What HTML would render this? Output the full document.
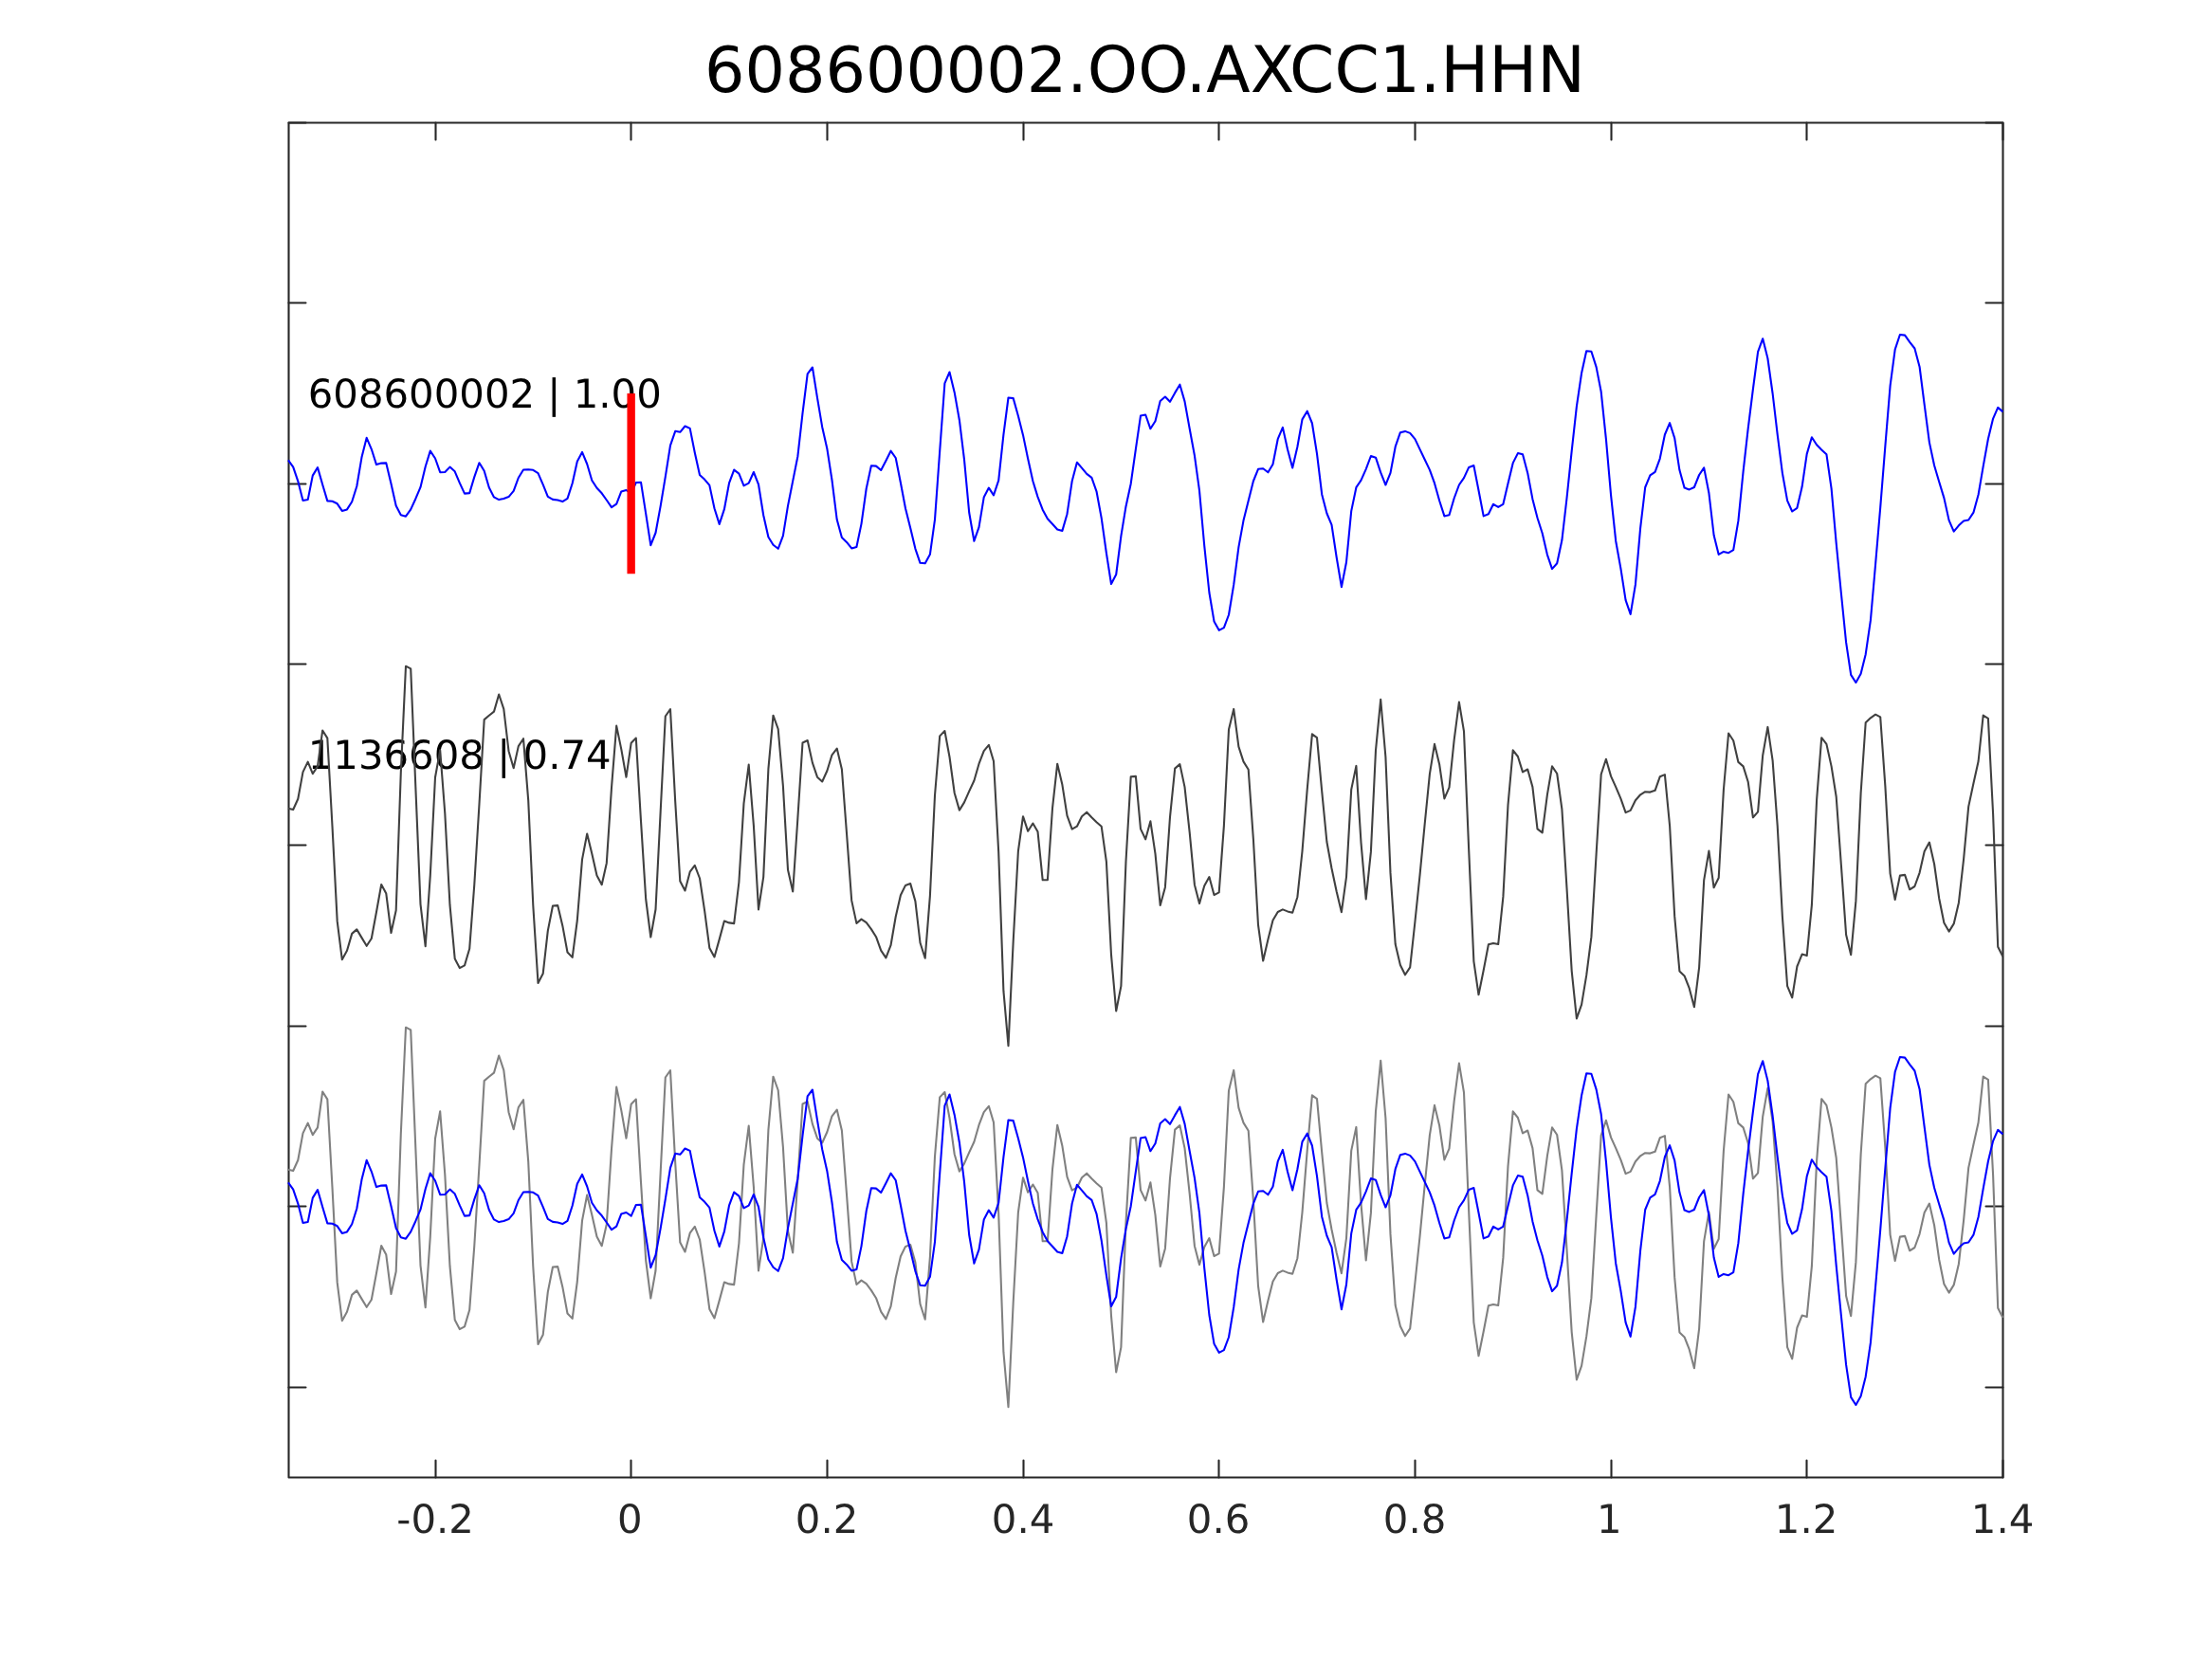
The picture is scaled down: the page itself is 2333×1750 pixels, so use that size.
<!DOCTYPE html>
<html lang="en"><head><meta charset="utf-8"><title>608600002.OO.AXCC1.HHN</title>
<style>
html,body{margin:0;padding:0;background:#fff}
body{width:2333px;height:1750px;overflow:hidden}
svg{display:block;text-rendering:geometricPrecision;will-change:transform}
</style>
</head><body>
<svg width="2333" height="1750" viewBox="0 0 2333 1750">
<rect x="0" y="0" width="2333" height="1750" fill="#fff"/>
<g stroke="#262626" stroke-width="2.08" fill="none" stroke-linecap="round" stroke-linejoin="round">
<rect x="304.5" y="129.5" width="1808.00" height="1429.00"/>
<path d="M459.50 1558.5V1540.50M459.50 129.5V147.50M665.50 1558.5V1540.50M665.50 129.5V147.50M872.50 1558.5V1540.50M872.50 129.5V147.50M1079.50 1558.5V1540.50M1079.50 129.5V147.50M1285.50 1558.5V1540.50M1285.50 129.5V147.50M1492.50 1558.5V1540.50M1492.50 129.5V147.50M1699.50 1558.5V1540.50M1699.50 129.5V147.50M1905.50 1558.5V1540.50M1905.50 129.5V147.50M2112.50 1558.5V1540.50M2112.50 129.5V147.50M304.5 319.50H322.50M2112.5 319.50H2094.50M304.5 510.50H322.50M2112.5 510.50H2094.50M304.5 700.50H322.50M2112.5 700.50H2094.50M304.5 891.50H322.50M2112.5 891.50H2094.50M304.5 1082.50H322.50M2112.5 1082.50H2094.50M304.5 1272.50H322.50M2112.5 1272.50H2094.50M304.5 1463.50H322.50M2112.5 1463.50H2094.50M304.5 129.5H322.50M2112.5 129.5H2094.50"/>
</g>
<g class="t" font-family="'DejaVu Sans','Liberation Sans',sans-serif" font-size="41.8" fill="#262626" text-anchor="middle">
<text x="459.1" y="1617">-0.2</text>
<text x="664.3" y="1617">0</text>
<text x="872.1" y="1617">0.2</text>
<text x="1079.1" y="1617">0.4</text>
<text x="1285.1" y="1617">0.6</text>
<text x="1492.1" y="1617">0.8</text>
<text x="1697.2" y="1617">1</text>
<text x="1905.1" y="1617">1.2</text>
<text x="2112.1" y="1617">1.4</text>
</g>
<text class="t" y="96.6" font-family="'DejaVu Sans','Liberation Sans',sans-serif" fill="#000"><tspan x="743.0" font-size="66.78">608600002</tspan><tspan dx="0" font-size="67.75">.OO.AXCC1.HHN</tspan></text>
<g class="t" font-family="'DejaVu Sans','Liberation Sans',sans-serif" font-size="41.8" fill="#000">
<text x="324.75" y="430">608600002 | 1.00</text>
<text x="324.75" y="811">1136608 | 0.74</text>
</g>
<g fill="none" stroke-width="2.08" stroke-linejoin="round" stroke-linecap="butt">
<polyline stroke="#0000ff" points="304.0,485.4 309.2,492.6 314.3,507.6 319.5,528.0 324.7,527.1 329.8,501.6 335.0,493.1 340.2,511.2 345.3,528.4 350.5,528.8 355.7,531.3 360.8,538.9 366.0,537.4 371.2,529.3 376.3,513.0 381.5,482.3 386.7,461.8 391.8,473.8 397.0,490.1 402.2,488.6 407.3,488.4 412.5,510.3 417.7,533.5 422.8,543.2 428.0,544.7 433.2,537.4 438.3,526.2 443.5,513.9 448.7,492.2 453.8,475.6 459.0,483.5 464.2,498.2 469.3,498.0 474.5,492.6 479.7,497.3 484.8,509.4 490.0,520.6 495.2,520.1 500.3,503.1 505.5,488.2 510.7,496.7 515.8,514.3 521.0,524.4 526.2,527.1 531.3,526.0 536.5,524.1 541.7,517.9 546.8,504.0 552.0,495.5 557.2,495.3 562.3,495.8 567.5,499.1 572.7,511.2 577.8,523.9 583.0,526.9 588.2,527.5 593.3,529.1 598.5,525.9 603.7,509.8 608.8,486.8 614.0,476.9 619.2,489.5 624.3,506.7 629.5,514.8 634.7,520.3 639.8,527.5 645.0,535.1 650.2,531.6 655.3,518.4 660.5,517.0 665.7,520.6 670.8,509.0 676.0,508.7 681.2,541.8 686.3,575.1 691.5,562.0 696.7,533.6 701.8,502.9 707.0,469.8 712.2,454.8 717.3,455.8 722.5,449.5 727.7,451.9 732.8,477.5 738.0,501.0 743.2,505.8 748.3,511.9 753.5,536.3 758.7,552.9 763.9,537.2 769.0,509.7 774.2,495.6 779.4,499.6 784.5,512.4 789.7,509.7 794.9,498.0 800.0,511.0 805.2,543.5 810.4,566.5 815.5,574.8 820.7,578.8 825.9,565.2 831.0,533.6 836.2,507.4 841.4,481.2 846.5,435.9 851.7,394.4 856.9,387.5 862.0,419.7 867.2,450.4 872.4,473.6 877.5,506.5 882.7,548.1 887.9,567.1 893.0,571.9 898.2,578.4 903.4,577.0 908.5,552.6 913.7,515.5 918.9,491.3 924.0,491.6 929.2,496.0 934.4,486.0 939.5,475.7 944.7,483.0 949.9,509.2 955.0,536.3 960.2,557.1 965.4,578.8 970.5,593.8 975.7,594.2 980.9,584.8 986.0,548.1 991.2,475.7 996.4,404.3 1001.5,392.5 1006.7,413.9 1011.9,443.2 1017.0,484.8 1022.2,540.8 1027.4,570.7 1032.5,556.2 1037.7,524.6 1042.9,514.6 1048.0,522.4 1053.2,506.8 1058.4,458.6 1063.5,419.5 1068.7,420.1 1073.9,438.7 1079.0,458.9 1084.2,484.0 1089.4,507.5 1094.5,524.1 1099.7,537.7 1104.9,547.3 1110.0,552.7 1115.2,558.5 1120.4,559.9 1125.5,542.2 1130.7,507.5 1135.9,487.8 1141.0,493.6 1146.2,499.9 1151.4,503.9 1156.5,518.3 1161.7,546.4 1166.9,583.4 1172.0,616.0 1177.2,606.0 1182.4,565.4 1187.5,534.2 1192.7,510.2 1197.9,473.7 1203.0,438.6 1208.2,437.5 1213.4,452.3 1218.5,444.2 1223.7,423.0 1228.9,418.5 1234.0,423.8 1239.2,414.4 1244.4,405.7 1249.5,423.4 1254.7,452.3 1259.9,480.4 1265.0,517.4 1270.2,575.3 1275.4,625.0 1280.5,655.4 1285.7,664.8 1290.9,662.1 1296.0,648.5 1301.2,616.9 1306.4,577.1 1311.5,549.1 1316.7,528.3 1321.9,507.5 1327.0,494.8 1332.2,494.3 1337.4,498.3 1342.5,489.8 1347.7,463.2 1352.9,450.9 1358.0,474.0 1363.2,493.6 1368.4,471.3 1373.5,442.4 1378.7,433.7 1383.9,446.5 1389.0,478.6 1394.2,521.4 1399.4,541.5 1404.5,553.6 1409.7,588.0 1414.9,619.2 1420.0,593.0 1425.2,539.1 1430.4,514.2 1435.5,506.6 1440.7,494.8 1445.9,481.0 1451.0,482.7 1456.2,498.4 1461.4,511.5 1466.5,498.9 1471.7,471.2 1476.9,456.2 1482.0,454.9 1487.2,456.9 1492.4,463.1 1497.5,473.9 1502.7,484.8 1507.9,495.6 1513.0,509.7 1518.2,528.2 1523.4,544.4 1528.5,543.2 1533.7,525.5 1538.9,511.5 1544.0,504.1 1549.2,492.9 1554.4,491.1 1559.5,517.3 1564.7,544.4 1569.9,542.3 1575.0,531.8 1580.2,534.9 1585.4,531.8 1590.5,510.1 1595.7,488.4 1600.9,478.1 1606.0,479.3 1611.2,498.9 1616.4,526.4 1621.5,546.3 1626.7,562.5 1631.9,585.1 1637.0,600.1 1642.2,594.2 1647.4,569.8 1652.5,525.5 1657.7,475.7 1662.9,428.7 1668.1,393.5 1673.2,370.3 1678.4,370.8 1683.6,387.1 1688.7,413.3 1693.9,463.1 1699.1,522.7 1704.2,570.7 1709.4,599.6 1714.6,633.1 1719.7,647.9 1724.9,616.7 1730.1,557.1 1735.2,514.0 1740.4,501.4 1745.6,497.9 1750.7,483.8 1755.9,458.5 1761.1,446.2 1766.2,462.1 1771.4,495.8 1776.6,514.6 1781.7,516.4 1786.9,514.0 1792.1,501.0 1797.2,493.4 1802.4,520.0 1807.6,564.5 1812.7,584.9 1817.9,581.9 1823.1,583.2 1828.2,580.1 1833.4,549.4 1838.6,497.3 1843.7,452.1 1848.9,410.5 1854.1,371.1 1859.2,357.2 1864.4,378.0 1869.6,415.0 1874.7,458.4 1879.9,499.1 1885.1,528.1 1890.2,539.5 1895.4,535.8 1900.6,513.6 1905.7,478.9 1910.9,461.2 1916.1,469.3 1921.2,474.4 1926.4,479.2 1931.6,515.4 1936.7,573.0 1941.9,626.0 1947.1,677.7 1952.2,711.9 1957.4,720.0 1962.6,710.8 1967.7,690.2 1972.9,654.4 1978.1,595.0 1983.2,535.3 1988.4,470.2 1993.6,406.9 1998.7,368.6 2003.9,353.0 2009.1,353.6 2014.2,360.8 2019.4,367.5 2024.6,387.0 2029.7,426.8 2034.9,466.6 2040.1,491.0 2045.2,508.2 2050.4,525.4 2055.6,548.9 2060.7,560.6 2065.9,554.3 2071.1,549.4 2076.2,548.5 2081.4,540.7 2086.6,521.7 2091.7,491.9 2096.9,463.0 2102.1,441.6 2107.2,429.9 2112.4,434.4"/>
<line x1="665.65" y1="415" x2="665.65" y2="605.2" stroke="#ff0000" stroke-width="8.4"/>
<polyline stroke="#404040" points="304.0,852.7 309.2,854.0 314.3,842.8 319.5,814.4 324.7,803.6 329.8,816.2 335.0,808.4 340.2,770.5 345.3,778.6 350.5,871.6 355.7,971.9 360.8,1012.2 366.0,1002.7 371.2,984.9 376.3,980.4 381.5,989.1 386.7,997.8 391.8,990.0 397.0,962.0 402.2,933.0 407.3,942.6 412.5,984.0 417.7,960.2 422.8,814.8 428.0,702.7 433.2,705.4 438.3,829.2 443.5,953.8 448.7,998.1 453.8,923.1 459.0,820.0 464.2,791.3 469.3,858.0 474.5,954.7 479.7,1011.2 484.8,1021.1 490.0,1018.4 495.2,1000.8 500.3,933.0 505.5,848.0 510.7,759.1 515.8,754.7 521.0,750.6 526.2,732.5 531.3,747.9 536.5,792.2 541.7,810.3 546.8,787.1 552.0,779.2 557.2,844.1 562.3,955.3 567.5,1037.0 572.7,1027.1 577.8,981.9 583.0,955.5 588.2,955.1 593.3,976.4 598.5,1004.5 603.7,1009.9 608.8,971.0 614.0,906.6 619.2,879.5 624.3,900.5 629.5,923.6 634.7,933.2 639.8,910.4 645.0,830.9 650.2,765.6 655.3,790.4 660.5,819.7 665.7,783.7 670.8,778.6 676.0,866.1 681.2,948.5 686.3,988.5 691.5,959.3 696.7,855.4 701.8,755.5 707.0,748.2 712.2,845.5 717.3,929.6 722.5,939.5 727.7,919.7 732.8,912.8 738.0,926.5 743.2,961.2 748.3,999.9 753.5,1009.5 758.7,990.9 763.9,971.6 769.0,973.4 774.2,974.1 779.4,930.5 784.5,847.3 789.7,806.6 794.9,870.8 800.0,959.4 805.2,925.1 810.4,811.2 815.5,754.7 820.7,769.0 825.9,829.2 831.0,917.5 836.2,940.5 841.4,862.7 846.5,783.5 851.7,781.0 856.9,804.6 862.0,819.7 867.2,824.5 872.4,813.0 877.5,796.3 882.7,789.6 887.9,811.5 893.0,879.0 898.2,949.9 903.4,973.9 908.5,969.6 913.7,973.2 918.9,980.1 924.0,988.2 929.2,1002.7 934.4,1010.4 939.5,997.2 944.7,967.0 949.9,944.2 955.0,933.9 960.2,932.1 965.4,950.6 970.5,994.5 975.7,1010.8 980.9,944.8 986.0,839.0 991.2,776.4 996.4,771.0 1001.5,798.5 1006.7,836.5 1011.9,854.6 1017.0,846.4 1022.2,834.7 1027.4,823.5 1032.5,805.7 1037.7,792.2 1042.9,785.8 1048.0,803.0 1053.2,898.7 1058.4,1045.2 1063.5,1103.2 1068.7,992.7 1073.9,897.8 1079.0,861.2 1084.2,876.8 1089.4,868.5 1094.5,877.2 1099.7,928.3 1104.9,928.2 1110.0,852.7 1115.2,805.7 1120.4,827.8 1125.5,860.3 1130.7,874.6 1135.9,871.7 1141.0,861.2 1146.2,856.7 1151.4,862.2 1156.5,867.2 1161.7,871.7 1166.9,908.8 1172.0,1007.2 1177.2,1066.5 1182.4,1040.1 1187.5,908.8 1192.7,819.3 1197.9,818.9 1203.0,874.4 1208.2,885.3 1213.4,866.3 1218.5,900.7 1223.7,954.9 1228.9,935.9 1234.0,861.8 1239.2,810.6 1244.4,806.1 1249.5,830.1 1254.7,878.1 1259.9,933.2 1265.0,953.1 1270.2,934.5 1275.4,925.1 1280.5,944.1 1285.7,941.4 1290.9,870.8 1296.0,769.6 1301.2,747.9 1306.4,787.6 1311.5,803.4 1316.7,811.7 1321.9,885.3 1327.0,975.7 1332.2,1013.5 1337.4,990.9 1342.5,970.8 1347.7,962.0 1352.9,959.4 1358.0,961.4 1363.2,962.7 1368.4,946.2 1373.5,898.0 1378.7,832.9 1383.9,774.4 1389.0,778.2 1394.2,834.7 1399.4,888.0 1404.5,916.0 1409.7,940.5 1414.9,962.2 1420.0,925.1 1425.2,832.9 1430.4,807.9 1435.5,888.9 1440.7,948.4 1445.9,898.4 1451.0,791.3 1456.2,737.9 1461.4,798.5 1466.5,920.9 1471.7,996.0 1476.9,1018.0 1482.0,1028.3 1487.2,1020.4 1492.4,972.5 1497.5,923.3 1502.7,869.0 1507.9,816.6 1513.0,784.9 1518.2,806.6 1523.4,842.4 1528.5,830.7 1533.7,780.4 1538.9,740.6 1544.0,771.4 1549.2,896.9 1554.4,1014.1 1559.5,1049.3 1564.7,1023.5 1569.9,996.3 1575.0,994.9 1580.2,996.0 1585.4,945.9 1590.5,849.1 1595.7,791.3 1600.9,798.0 1606.0,814.4 1611.2,811.5 1616.4,830.1 1621.5,874.4 1626.7,878.4 1631.9,838.3 1637.0,808.3 1642.2,816.0 1647.4,853.7 1652.5,936.7 1657.7,1024.4 1662.9,1074.4 1668.1,1059.6 1673.2,1028.9 1678.4,988.4 1683.6,901.0 1688.7,816.8 1693.9,800.8 1699.1,818.9 1704.2,830.1 1709.4,842.4 1714.6,857.1 1719.7,854.9 1724.9,844.2 1730.1,838.3 1735.2,835.2 1740.4,835.6 1745.6,833.8 1750.7,819.3 1755.9,817.1 1761.1,871.2 1766.2,966.4 1771.4,1024.4 1776.6,1029.4 1781.7,1042.4 1786.9,1062.3 1792.1,1020.7 1797.2,928.3 1802.4,897.6 1807.6,936.3 1812.7,926.0 1817.9,833.0 1823.1,773.5 1828.2,781.3 1833.4,803.9 1838.6,808.4 1843.7,824.7 1848.9,862.3 1854.1,856.4 1859.2,796.7 1864.4,766.9 1869.6,802.1 1874.7,871.2 1879.9,967.0 1885.1,1040.1 1890.2,1052.4 1895.4,1019.5 1900.6,1006.6 1905.7,1008.1 1910.9,954.7 1916.1,843.7 1921.2,778.2 1926.4,784.9 1931.6,808.4 1936.7,840.5 1941.9,912.8 1947.1,986.0 1952.2,1007.2 1957.4,950.4 1962.6,836.8 1967.7,762.3 1972.9,757.3 1978.1,753.7 1983.2,756.4 1988.4,829.6 1993.6,921.6 1998.7,949.0 2003.9,923.6 2009.1,922.9 2014.2,938.3 2019.4,935.0 2024.6,920.6 2029.7,898.0 2034.9,888.6 2040.1,911.5 2045.2,947.7 2050.4,973.5 2055.6,982.6 2060.7,974.4 2065.9,952.2 2071.1,906.1 2076.2,850.9 2081.4,826.5 2086.6,803.0 2091.7,754.6 2096.9,757.8 2102.1,858.5 2107.2,998.7 2112.4,1009.0"/>
<polyline stroke="#808080" points="304.0,1233.7 309.2,1235.0 314.3,1223.8 319.5,1195.4 324.7,1184.6 329.8,1197.2 335.0,1189.4 340.2,1151.5 345.3,1159.6 350.5,1252.6 355.7,1352.9 360.8,1393.2 366.0,1383.7 371.2,1365.9 376.3,1361.4 381.5,1370.1 386.7,1378.8 391.8,1371.0 397.0,1343.0 402.2,1314.0 407.3,1323.6 412.5,1365.0 417.7,1341.2 422.8,1195.8 428.0,1083.7 433.2,1086.4 438.3,1210.2 443.5,1334.8 448.7,1379.1 453.8,1304.1 459.0,1201.0 464.2,1172.3 469.3,1239.0 474.5,1335.7 479.7,1392.2 484.8,1402.1 490.0,1399.4 495.2,1381.8 500.3,1314.0 505.5,1229.0 510.7,1140.1 515.8,1135.7 521.0,1131.6 526.2,1113.5 531.3,1128.9 536.5,1173.2 541.7,1191.3 546.8,1168.1 552.0,1160.2 557.2,1225.1 562.3,1336.3 567.5,1418.0 572.7,1408.1 577.8,1362.9 583.0,1336.5 588.2,1336.1 593.3,1357.4 598.5,1385.5 603.7,1390.9 608.8,1352.0 614.0,1287.6 619.2,1260.5 624.3,1281.5 629.5,1304.6 634.7,1314.2 639.8,1291.4 645.0,1211.9 650.2,1146.6 655.3,1171.4 660.5,1200.7 665.7,1164.7 670.8,1159.6 676.0,1247.1 681.2,1329.5 686.3,1369.5 691.5,1340.3 696.7,1236.4 701.8,1136.5 707.0,1129.2 712.2,1226.5 717.3,1310.6 722.5,1320.5 727.7,1300.7 732.8,1293.8 738.0,1307.5 743.2,1342.2 748.3,1380.9 753.5,1390.5 758.7,1371.9 763.9,1352.6 769.0,1354.4 774.2,1355.1 779.4,1311.5 784.5,1228.3 789.7,1187.6 794.9,1251.8 800.0,1340.4 805.2,1306.1 810.4,1192.2 815.5,1135.7 820.7,1150.0 825.9,1210.2 831.0,1298.5 836.2,1321.5 841.4,1243.7 846.5,1164.5 851.7,1162.0 856.9,1185.6 862.0,1200.7 867.2,1205.5 872.4,1194.0 877.5,1177.3 882.7,1170.6 887.9,1192.5 893.0,1260.0 898.2,1330.9 903.4,1354.9 908.5,1350.6 913.7,1354.2 918.9,1361.1 924.0,1369.2 929.2,1383.7 934.4,1391.4 939.5,1378.2 944.7,1348.0 949.9,1325.2 955.0,1314.9 960.2,1313.1 965.4,1331.6 970.5,1375.5 975.7,1391.8 980.9,1325.8 986.0,1220.0 991.2,1157.4 996.4,1152.0 1001.5,1179.5 1006.7,1217.5 1011.9,1235.6 1017.0,1227.4 1022.2,1215.7 1027.4,1204.5 1032.5,1186.7 1037.7,1173.2 1042.9,1166.8 1048.0,1184.0 1053.2,1279.7 1058.4,1426.2 1063.5,1484.2 1068.7,1373.7 1073.9,1278.8 1079.0,1242.2 1084.2,1257.8 1089.4,1249.5 1094.5,1258.2 1099.7,1309.3 1104.9,1309.2 1110.0,1233.7 1115.2,1186.7 1120.4,1208.8 1125.5,1241.3 1130.7,1255.6 1135.9,1252.7 1141.0,1242.2 1146.2,1237.7 1151.4,1243.2 1156.5,1248.2 1161.7,1252.7 1166.9,1289.8 1172.0,1388.2 1177.2,1447.5 1182.4,1421.1 1187.5,1289.8 1192.7,1200.3 1197.9,1199.9 1203.0,1255.4 1208.2,1266.3 1213.4,1247.3 1218.5,1281.7 1223.7,1335.9 1228.9,1316.9 1234.0,1242.8 1239.2,1191.6 1244.4,1187.1 1249.5,1211.1 1254.7,1259.1 1259.9,1314.2 1265.0,1334.1 1270.2,1315.5 1275.4,1306.1 1280.5,1325.1 1285.7,1322.4 1290.9,1251.8 1296.0,1150.6 1301.2,1128.9 1306.4,1168.6 1311.5,1184.4 1316.7,1192.7 1321.9,1266.3 1327.0,1356.7 1332.2,1394.5 1337.4,1371.9 1342.5,1351.8 1347.7,1343.0 1352.9,1340.4 1358.0,1342.4 1363.2,1343.7 1368.4,1327.2 1373.5,1279.0 1378.7,1213.9 1383.9,1155.4 1389.0,1159.2 1394.2,1215.7 1399.4,1269.0 1404.5,1297.0 1409.7,1321.5 1414.9,1343.2 1420.0,1306.1 1425.2,1213.9 1430.4,1188.9 1435.5,1269.9 1440.7,1329.4 1445.9,1279.4 1451.0,1172.3 1456.2,1118.9 1461.4,1179.5 1466.5,1301.9 1471.7,1377.0 1476.9,1399.0 1482.0,1409.3 1487.2,1401.4 1492.4,1353.5 1497.5,1304.3 1502.7,1250.0 1507.9,1197.6 1513.0,1165.9 1518.2,1187.6 1523.4,1223.4 1528.5,1211.7 1533.7,1161.4 1538.9,1121.6 1544.0,1152.4 1549.2,1277.9 1554.4,1395.1 1559.5,1430.3 1564.7,1404.5 1569.9,1377.3 1575.0,1375.9 1580.2,1377.0 1585.4,1326.9 1590.5,1230.1 1595.7,1172.3 1600.9,1179.0 1606.0,1195.4 1611.2,1192.5 1616.4,1211.1 1621.5,1255.4 1626.7,1259.4 1631.9,1219.3 1637.0,1189.3 1642.2,1197.0 1647.4,1234.7 1652.5,1317.7 1657.7,1405.4 1662.9,1455.4 1668.1,1440.6 1673.2,1409.9 1678.4,1369.4 1683.6,1282.0 1688.7,1197.8 1693.9,1181.8 1699.1,1199.9 1704.2,1211.1 1709.4,1223.4 1714.6,1238.1 1719.7,1235.9 1724.9,1225.2 1730.1,1219.3 1735.2,1216.2 1740.4,1216.6 1745.6,1214.8 1750.7,1200.3 1755.9,1198.1 1761.1,1252.2 1766.2,1347.4 1771.4,1405.4 1776.6,1410.4 1781.7,1423.4 1786.9,1443.3 1792.1,1401.7 1797.2,1309.3 1802.4,1278.6 1807.6,1317.3 1812.7,1307.0 1817.9,1214.0 1823.1,1154.5 1828.2,1162.3 1833.4,1184.9 1838.6,1189.4 1843.7,1205.7 1848.9,1243.3 1854.1,1237.4 1859.2,1177.7 1864.4,1147.9 1869.6,1183.1 1874.7,1252.2 1879.9,1348.0 1885.1,1421.1 1890.2,1433.4 1895.4,1400.5 1900.6,1387.6 1905.7,1389.1 1910.9,1335.7 1916.1,1224.7 1921.2,1159.2 1926.4,1165.9 1931.6,1189.4 1936.7,1221.5 1941.9,1293.8 1947.1,1367.0 1952.2,1388.2 1957.4,1331.4 1962.6,1217.8 1967.7,1143.3 1972.9,1138.3 1978.1,1134.7 1983.2,1137.4 1988.4,1210.6 1993.6,1302.6 1998.7,1330.0 2003.9,1304.6 2009.1,1303.9 2014.2,1319.3 2019.4,1316.0 2024.6,1301.6 2029.7,1279.0 2034.9,1269.6 2040.1,1292.5 2045.2,1328.7 2050.4,1354.5 2055.6,1363.6 2060.7,1355.4 2065.9,1333.2 2071.1,1287.1 2076.2,1231.9 2081.4,1207.5 2086.6,1184.0 2091.7,1135.6 2096.9,1138.8 2102.1,1239.5 2107.2,1379.7 2112.4,1390.0"/>
<polyline stroke="#0000ff" points="304.0,1247.4 309.2,1254.6 314.3,1269.6 319.5,1290.0 324.7,1289.1 329.8,1263.6 335.0,1255.1 340.2,1273.2 345.3,1290.4 350.5,1290.8 355.7,1293.3 360.8,1300.9 366.0,1299.4 371.2,1291.3 376.3,1275.0 381.5,1244.3 386.7,1223.8 391.8,1235.8 397.0,1252.1 402.2,1250.6 407.3,1250.4 412.5,1272.3 417.7,1295.5 422.8,1305.2 428.0,1306.7 433.2,1299.4 438.3,1288.2 443.5,1275.9 448.7,1254.2 453.8,1237.6 459.0,1245.5 464.2,1260.2 469.3,1260.0 474.5,1254.6 479.7,1259.3 484.8,1271.4 490.0,1282.6 495.2,1282.1 500.3,1265.1 505.5,1250.2 510.7,1258.7 515.8,1276.3 521.0,1286.4 526.2,1289.1 531.3,1288.0 536.5,1286.1 541.7,1279.9 546.8,1266.0 552.0,1257.5 557.2,1257.3 562.3,1257.8 567.5,1261.1 572.7,1273.2 577.8,1285.9 583.0,1288.9 588.2,1289.5 593.3,1291.1 598.5,1287.9 603.7,1271.8 608.8,1248.8 614.0,1238.9 619.2,1251.5 624.3,1268.7 629.5,1276.8 634.7,1282.3 639.8,1289.5 645.0,1297.1 650.2,1293.6 655.3,1280.4 660.5,1279.0 665.7,1282.6 670.8,1271.0 676.0,1270.7 681.2,1303.8 686.3,1337.1 691.5,1324.0 696.7,1295.6 701.8,1264.9 707.0,1231.8 712.2,1216.8 717.3,1217.8 722.5,1211.5 727.7,1213.9 732.8,1239.5 738.0,1263.0 743.2,1267.8 748.3,1273.9 753.5,1298.3 758.7,1314.9 763.9,1299.2 769.0,1271.7 774.2,1257.6 779.4,1261.6 784.5,1274.4 789.7,1271.7 794.9,1260.0 800.0,1273.0 805.2,1305.5 810.4,1328.5 815.5,1336.8 820.7,1340.8 825.9,1327.2 831.0,1295.6 836.2,1269.4 841.4,1243.2 846.5,1197.9 851.7,1156.4 856.9,1149.5 862.0,1181.7 867.2,1212.4 872.4,1235.6 877.5,1268.5 882.7,1310.1 887.9,1329.1 893.0,1333.9 898.2,1340.4 903.4,1339.0 908.5,1314.6 913.7,1277.5 918.9,1253.3 924.0,1253.6 929.2,1258.0 934.4,1248.0 939.5,1237.7 944.7,1245.0 949.9,1271.2 955.0,1298.3 960.2,1319.1 965.4,1340.8 970.5,1355.8 975.7,1356.2 980.9,1346.8 986.0,1310.1 991.2,1237.7 996.4,1166.3 1001.5,1154.5 1006.7,1175.9 1011.9,1205.2 1017.0,1246.8 1022.2,1302.8 1027.4,1332.7 1032.5,1318.2 1037.7,1286.6 1042.9,1276.6 1048.0,1284.4 1053.2,1268.8 1058.4,1220.6 1063.5,1181.5 1068.7,1182.1 1073.9,1200.7 1079.0,1220.9 1084.2,1246.0 1089.4,1269.5 1094.5,1286.1 1099.7,1299.7 1104.9,1309.3 1110.0,1314.7 1115.2,1320.5 1120.4,1321.9 1125.5,1304.2 1130.7,1269.5 1135.9,1249.8 1141.0,1255.6 1146.2,1261.9 1151.4,1265.9 1156.5,1280.3 1161.7,1308.4 1166.9,1345.4 1172.0,1378.0 1177.2,1368.0 1182.4,1327.4 1187.5,1296.2 1192.7,1272.2 1197.9,1235.7 1203.0,1200.6 1208.2,1199.5 1213.4,1214.3 1218.5,1206.2 1223.7,1185.0 1228.9,1180.5 1234.0,1185.8 1239.2,1176.4 1244.4,1167.7 1249.5,1185.4 1254.7,1214.3 1259.9,1242.4 1265.0,1279.4 1270.2,1337.3 1275.4,1387.0 1280.5,1417.4 1285.7,1426.8 1290.9,1424.1 1296.0,1410.5 1301.2,1378.9 1306.4,1339.1 1311.5,1311.1 1316.7,1290.3 1321.9,1269.5 1327.0,1256.8 1332.2,1256.3 1337.4,1260.3 1342.5,1251.8 1347.7,1225.2 1352.9,1212.9 1358.0,1236.0 1363.2,1255.6 1368.4,1233.3 1373.5,1204.4 1378.7,1195.7 1383.9,1208.5 1389.0,1240.6 1394.2,1283.4 1399.4,1303.5 1404.5,1315.6 1409.7,1350.0 1414.9,1381.2 1420.0,1355.0 1425.2,1301.1 1430.4,1276.2 1435.5,1268.6 1440.7,1256.8 1445.9,1243.0 1451.0,1244.7 1456.2,1260.4 1461.4,1273.5 1466.5,1260.9 1471.7,1233.2 1476.9,1218.2 1482.0,1216.9 1487.2,1218.9 1492.4,1225.1 1497.5,1235.9 1502.7,1246.8 1507.9,1257.6 1513.0,1271.7 1518.2,1290.2 1523.4,1306.4 1528.5,1305.2 1533.7,1287.5 1538.9,1273.5 1544.0,1266.1 1549.2,1254.9 1554.4,1253.1 1559.5,1279.3 1564.7,1306.4 1569.9,1304.3 1575.0,1293.8 1580.2,1296.9 1585.4,1293.8 1590.5,1272.1 1595.7,1250.4 1600.9,1240.1 1606.0,1241.3 1611.2,1260.9 1616.4,1288.4 1621.5,1308.3 1626.7,1324.5 1631.9,1347.1 1637.0,1362.1 1642.2,1356.2 1647.4,1331.8 1652.5,1287.5 1657.7,1237.7 1662.9,1190.7 1668.1,1155.5 1673.2,1132.3 1678.4,1132.8 1683.6,1149.1 1688.7,1175.3 1693.9,1225.1 1699.1,1284.7 1704.2,1332.7 1709.4,1361.6 1714.6,1395.1 1719.7,1409.9 1724.9,1378.7 1730.1,1319.1 1735.2,1276.0 1740.4,1263.4 1745.6,1259.9 1750.7,1245.8 1755.9,1220.5 1761.1,1208.2 1766.2,1224.1 1771.4,1257.8 1776.6,1276.6 1781.7,1278.4 1786.9,1276.0 1792.1,1263.0 1797.2,1255.4 1802.4,1282.0 1807.6,1326.5 1812.7,1346.9 1817.9,1343.9 1823.1,1345.2 1828.2,1342.1 1833.4,1311.4 1838.6,1259.3 1843.7,1214.1 1848.9,1172.5 1854.1,1133.1 1859.2,1119.2 1864.4,1140.0 1869.6,1177.0 1874.7,1220.4 1879.9,1261.1 1885.1,1290.1 1890.2,1301.5 1895.4,1297.8 1900.6,1275.6 1905.7,1240.9 1910.9,1223.2 1916.1,1231.3 1921.2,1236.4 1926.4,1241.2 1931.6,1277.4 1936.7,1335.0 1941.9,1388.0 1947.1,1439.7 1952.2,1473.9 1957.4,1482.0 1962.6,1472.8 1967.7,1452.2 1972.9,1416.4 1978.1,1357.0 1983.2,1297.3 1988.4,1232.2 1993.6,1168.9 1998.7,1130.6 2003.9,1115.0 2009.1,1115.6 2014.2,1122.8 2019.4,1129.5 2024.6,1149.0 2029.7,1188.8 2034.9,1228.6 2040.1,1253.0 2045.2,1270.2 2050.4,1287.4 2055.6,1310.9 2060.7,1322.6 2065.9,1316.3 2071.1,1311.4 2076.2,1310.5 2081.4,1302.7 2086.6,1283.7 2091.7,1253.9 2096.9,1225.0 2102.1,1203.6 2107.2,1191.9 2112.4,1196.4"/>
</g>
</svg>
</body></html>
